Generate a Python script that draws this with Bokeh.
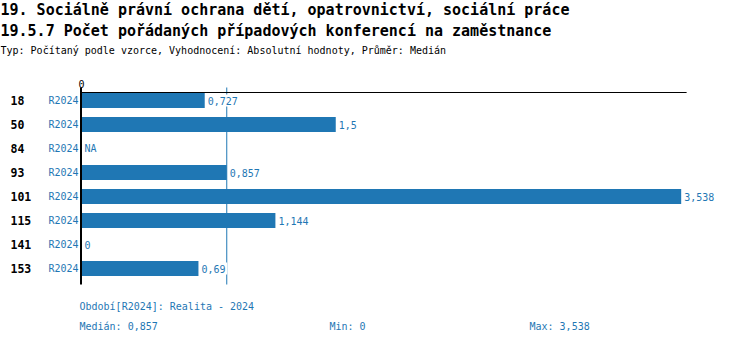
import numpy as np
from bokeh.plotting import figure
from bokeh.models import ColumnDataSource, Range1d, Label, LabelSet
from bokeh.core.properties import value
from bokeh.embed import file_html
from bokeh.resources import INLINE

# ---- data ----
title1 = "19. Sociálně právní ochrana dětí, opatrovnictví, sociální práce"
title2 = "19.5.7 Počet pořádaných případových konferencí na zaměstnance"
subtitle = "Typ: Počítaný podle vzorce, Vyhodnocení: Absolutní hodnoty, Průměr: Medián"
categories = ["18", "50", "84", "93", "101", "115", "141", "153"]
series_name = "R2024"
values = [0.727, 1.5, None, 0.857, 3.538, 1.144, 0.0, 0.69]
period_text = "Období[R2024]: Realita - 2024"
tick_labels = ["0"]

FONT = "DejaVu Sans Mono"
BLUE = "#1f77b4"

def fmt(v):
    if v is None:
        return "NA"
    s = ("%.3f" % v).rstrip("0").rstrip(".")
    return s.replace(".", ",")

valid = [v for v in values if v is not None]
med = float(np.median(valid))
vmin = min(valid)
vmax = max(valid)

n = len(categories)
rows = list(range(n))
vals0 = [0 if v is None else v for v in values]

W, H = 750, 344
px_per_unit = 169.5
x0_px = 81
row0_px = 100
row_px = 24

p = figure(width=W, height=H, output_backend="svg", toolbar_location=None,
           min_border=0, min_border_left=0, min_border_right=0,
           min_border_top=0, min_border_bottom=0,
           x_range=Range1d(-x0_px / px_per_unit, (W - x0_px) / px_per_unit),
           y_range=Range1d((H - row0_px) / row_px, -row0_px / row_px))
p.axis.visible = False
p.grid.visible = False
p.outline_line_color = None
p.background_fill_color = "white"
p.border_fill_color = "white"

top_y = -8 / row_px
bot_y = (n - 1) + 16 / row_px
axis_end = 3.57

# median line (under bars)
p.segment(x0=[med], y0=[top_y - 5 / row_px], x1=[med], y1=[bot_y],
          line_color=BLUE, line_width=1)

labs = [fmt(v) for v in values]
src = ColumnDataSource(dict(
    y=rows, right=vals0, cat=categories,
    ser=[series_name] * n,
    lab=labs,
    lx=vals0,
    bgx=[v + (3 + len(s) * 3.1) / px_per_unit for v, s in zip(vals0, labs)],
    bgw=[len(s) * 6.2 + 2 for s in labs],
))

p.hbar(y="y", left=0, right="right", height=15 / row_px, source=src,
       fill_color=BLUE, line_color=None)

# white backgrounds behind value labels
p.rect(x="bgx", y="y", width="bgw", height=12, width_units="screen",
       height_units="screen", source=src, fill_color="white", line_color=None)

# axis lines
p.segment(x0=[-1 / px_per_unit], y0=[top_y], x1=[axis_end], y1=[top_y],
          line_color="black", line_width=1)
p.segment(x0=[-0.5 / px_per_unit], y0=[top_y - 5 / row_px],
          x1=[-0.5 / px_per_unit], y1=[bot_y],
          line_color="black", line_width=2)

# tick label
p.text(x=[0], y=[top_y], text=tick_labels, text_font=value(FONT),
       text_font_size="10px", text_color="black", text_align="center",
       text_baseline="bottom", y_offset=-5)

# category labels
p.text(x=0, y="y", text="cat", source=src, x_offset=-71,
       text_font=value(FONT), text_font_size="11.5px", text_font_style="bold",
       text_color="black", text_align="left", text_baseline="middle")
# series labels
p.text(x=0, y="y", text="ser", source=src, x_offset=-3,
       text_font=value(FONT), text_font_size="10px",
       text_color=BLUE, text_align="right", text_baseline="middle")
# value labels
p.text(x="lx", y="y", text="lab", source=src, x_offset=3,
       text_font=value(FONT), text_font_size="10px",
       text_color=BLUE, text_align="left", text_baseline="middle")

def add_label(x, y, text, size, bold=False, color="black"):
    p.add_layout(Label(x=x, y=H - y, x_units="screen", y_units="screen",
                       text=text, text_font=FONT, text_font_size=size,
                       text_font_style="bold" if bold else "normal",
                       text_color=color, text_align="left",
                       text_baseline="middle"))

add_label(0, 9, title1, "15px", bold=True)
add_label(0, 30, title2, "15px", bold=True)
add_label(0, 50, subtitle, "10px")
add_label(79, 306, period_text, "10px", color=BLUE)
add_label(79, 326, "Medián: " + fmt(med), "10px", color=BLUE)
add_label(329, 326, "Min: " + fmt(vmin), "10px", color=BLUE)
add_label(529, 326, "Max: " + fmt(vmax), "10px", color=BLUE)

open("out.html", "w").write(file_html(p, INLINE))
